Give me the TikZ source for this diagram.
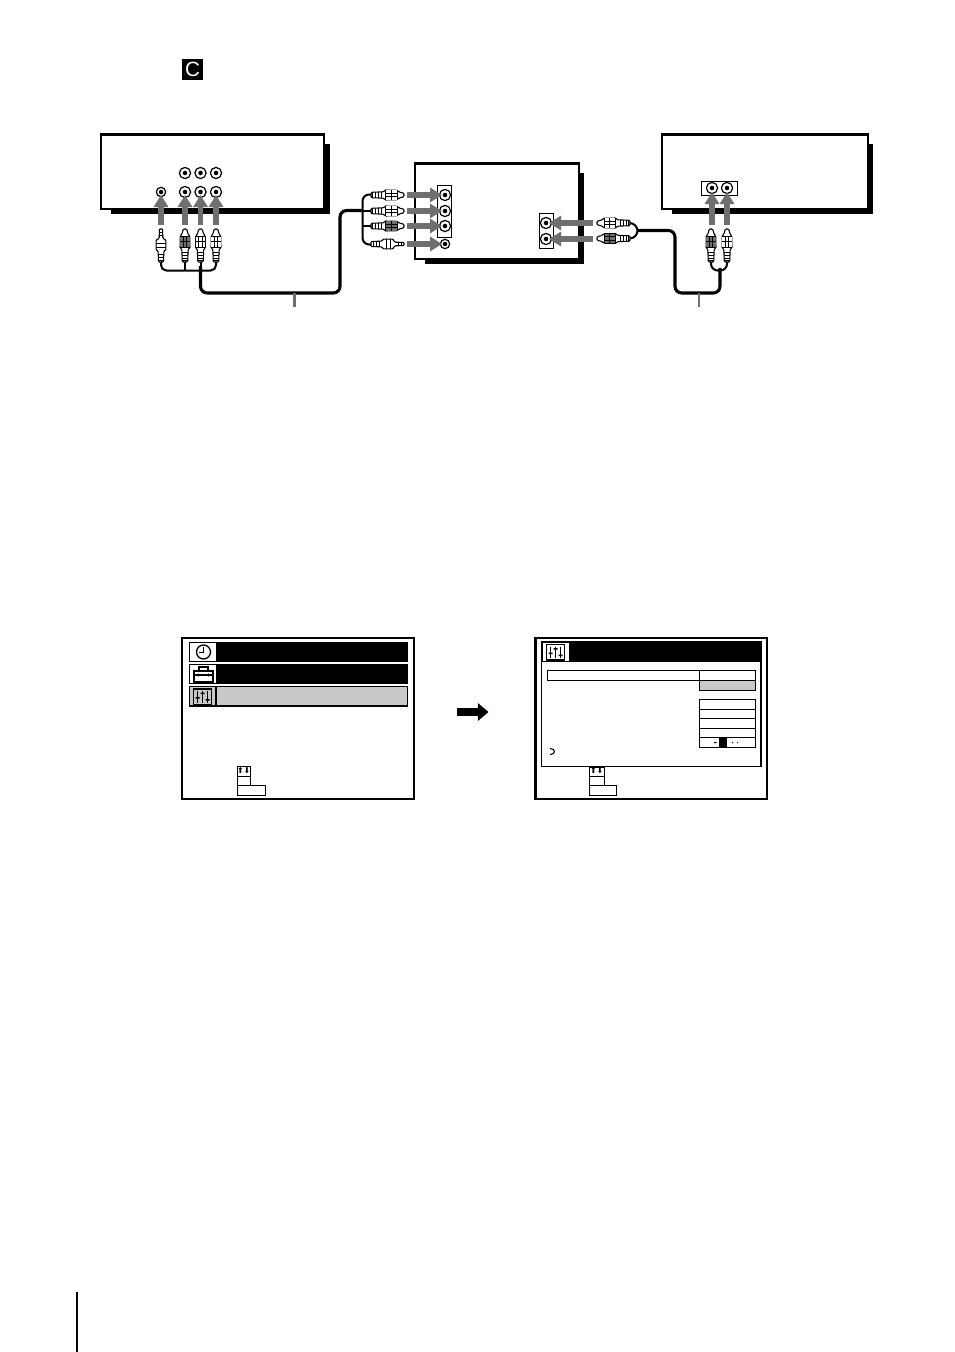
\documentclass[tikz,border=0pt]{standalone}
\usepackage{fontspec}
\setmainfont{Liberation Sans}
\usetikzlibrary{arrows.meta}
\definecolor{arrowgray}{HTML}{6F6F6F}
\definecolor{menugray}{HTML}{C9C9C9}
\tikzset{
  device/.style={draw=black,line width=1.9pt,fill=white},
  shadowbox/.style={fill=black,draw=none},
  panel/.style={draw=black,line width=.7pt,fill=white},
  jackbig/.style={circle,draw=black,line width=.9pt,fill=white,minimum size=8.4pt,inner sep=0pt},
  jacksmall/.style={circle,draw=black,line width=.9pt,fill=white,minimum size=7pt,inner sep=0pt},
  cable/.style={draw=black,line width=2.3pt,rounded corners=5pt},
  thincable/.style={draw=black,line width=1.5pt,rounded corners=4pt},
  flow/.style={draw=arrowgray,line width=4.2pt,-{Triangle[width=10.5pt,length=9pt]}},
  pointer/.style={draw=arrowgray,line width=1.7pt},
  screen/.style={draw=black,line width=1.9pt,fill=white},
  cell/.style={draw=black,line width=.7pt,fill=white},
  graycell/.style={draw=black,line width=.7pt,fill=menugray},
  blackcell/.style={draw=none,fill=black},
  iconline/.style={draw=black,line width=1pt},
}
\newcommand{\jackdot}[1]{\fill[black] (#1) circle[radius=1.7pt];}
% plug: tip at origin, running along +x (px units)
\newcommand{\rcaplug}[4]{%
 \begin{scope}[shift={(#1,#2)},rotate=#3]
  \draw[black,line width=.8pt,fill=white,rounded corners=.8pt] (0,-1.8) -- (5,-3) -- (7,-4.8) -- (19,-5) -- (20,-3.2) -- (33,-2.7) -- (33,2.7) -- (20,3.2) -- (19,5) -- (7,4.8) -- (5,3) -- (0,1.8) -- cycle;
  \fill[#4] (7,-4.6) rectangle (19,4.6);
  \draw[black,line width=.7pt] (7,-4.8) -- (7,4.8) (12.5,-4.8) -- (12.5,4.8) (18.5,-4.8) -- (18.5,4.8) (7,-1.6) -- (18.5,-1.6) (7,1.6) -- (18.5,1.6) (23,-3)--(23,3) (26,-2.9)--(26,2.9) (29,-2.8)--(29,2.8) (31.5,-2.7)--(31.5,2.7);
 \end{scope}}
\newcommand{\miniplug}[3]{%
 \begin{scope}[shift={(#1,#2)},rotate=#3]
  \draw[black,line width=.8pt,fill=white,rounded corners=.6pt] (0,-1.6) -- (9,-1.8) -- (10,-3) -- (11,-4.8) -- (21,-4.8) -- (22,-2.9) -- (33,-2.5) -- (33,2.5) -- (22,2.9) -- (21,4.8) -- (11,4.8) -- (10,3) -- (9,1.8) -- (0,1.6) -- cycle;
  \draw[black,line width=.7pt] (3,-1.7) -- (3,1.7) (6,-1.7) -- (6,1.7) (14,-4.8) -- (14,4.8) (18,-4.8) -- (18,4.8) (25,-2.8)--(25,2.8) (28,-2.7)--(28,2.7) (31,-2.6)--(31,2.6);
 \end{scope}}
\newcommand{\slidericon}[2]{%
 \begin{scope}[shift={(#1,#2)}]
 \draw[iconline,line width=1.1pt] (0,0) rectangle (18,15.5);
 \draw[iconline,line width=.9pt] (4,2) -- (4,13.5) (9,2) -- (9,13.5) (14,2) -- (14,13.5);
 \fill[black] (2,8) rectangle (6,9.5) (7,3.5) rectangle (11,5) (12,10) rectangle (16,11.5);
 \end{scope}}
\begin{document}
\begin{tikzpicture}[x=.75pt,y=-.75pt]
\useasboundingbox (0,0) rectangle (954,1352);
% label C
\node[fill=black,text=white,inner sep=0pt,minimum width=15.6pt,minimum height=15.6pt,font=\fontsize{15.5pt}{15.5pt}\selectfont] (lab) at (192.5,69.5) {C};
% devices
\fill[shadowbox] (111,144) rectangle (330,214);
\path[device] (101,134.5) rectangle (324,209);
\fill[shadowbox] (425,173) rectangle (584,264);
\path[device] (415,163.5) rectangle (579,259);
\fill[shadowbox] (672,144) rectangle (873,214);
\path[device] (662,134.5) rectangle (868,209);
% panels
\path[panel] (437.5,185) rectangle (451,237);
\path[panel] (539.5,213) rectangle (553,248);
\path[panel,fill=white] (701.5,181) rectangle (737,195);
% jacks left device
\foreach \n/\x in {a/185,b/200.5,c/216}{
  \node[jackbig] (top\n) at (\x,173) {}; \jackdot{top\n}
  \node[jackbig] (bot\n) at (\x,192) {}; \jackdot{bot\n}
}
\node[jacksmall] (botv) at (161,192) {}; \jackdot{botv}
% jacks centre
\node[jackbig] (ca) at (445,195) {}; \jackdot{ca}
\node[jackbig] (cb) at (445,211) {}; \jackdot{cb}
\node[jackbig] (cc) at (445,226) {}; \jackdot{cc}
\node[jacksmall] (cd) at (445,244) {}; \jackdot{cd}
\node[jackbig] (ce) at (546,223) {}; \jackdot{ce}
\node[jackbig] (cf) at (546,239) {}; \jackdot{cf}
% jacks right device
\node[jackbig] (ra) at (712,188) {}; \jackdot{ra}
\node[jackbig] (rb) at (727,188) {}; \jackdot{rb}
% cables
\coordinate (m0) at (200.5,262);
\coordinate (m1) at (200.5,293);
\coordinate (m2) at (340,293);
\coordinate (m3) at (340,210.5);
\coordinate (m4) at (363,210.5);
\path[thincable] (161,260) -- (161,270.5) -- (216,270.5) -- (216,260);
\path[thincable] (185,260) -- (185,270.5);
\path[thincable] (m0) -- (200.5,270);
\path[cable] (200.5,266) -- (m1) -- (m2) -- (m3) -- (m4);
\path[thincable,rounded corners=5pt] (371,194.5) -- (362.5,194.5) -- (362.5,244.5) -- (371,244.5);
\path[thincable] (362.5,226) -- (371,226);
\path[thincable] (362.5,210.5) -- (371,210.5);
\path[thincable,rounded corners=6pt] (629,223) -- (637.5,223) -- (637.5,238.5) -- (629,238.5);
\path[cable] (637.5,230.5) -- (675,230.5) -- (675,293) -- (720,293) -- (720,268);
\path[thincable,rounded corners=5pt] (711,260) -- (711,270.5) -- (727,270.5) -- (727,260);
% pointers
\coordinate (p1) at (294.5,293);
\coordinate (p1e) at (294.5,307);
\coordinate (p2) at (699,293);
\coordinate (p2e) at (699,307);
\path[pointer] (p1) -- (p1e);
\path[pointer] (p2) -- (p2e);
% plugs
\miniplug{161}{229}{-90}
\rcaplug{185}{229}{-90}{arrowgray}
\rcaplug{200.5}{229}{-90}{white}
\rcaplug{216}{229}{-90}{white}
\rcaplug{404}{195}{180}{white}
\rcaplug{404}{211}{180}{white}
\rcaplug{404}{226}{180}{arrowgray}
\miniplug{404}{244}{180}
\rcaplug{597}{223}{0}{white}
\rcaplug{597}{238.5}{0}{arrowgray}
\rcaplug{711}{229}{-90}{arrowgray}
\rcaplug{727}{229}{-90}{white}
% flow arrows
\coordinate (s1) at (161,225); \coordinate (s2) at (185,225); \coordinate (s3) at (200.5,225); \coordinate (s4) at (216,225);
\coordinate (s5) at (407,195); \coordinate (s6) at (407,211); \coordinate (s7) at (407,226); \coordinate (s8) at (407,244);
\coordinate (s9) at (593,223); \coordinate (s10) at (593,239);
\coordinate (s11) at (712,225); \coordinate (s12) at (727,225);
\path[flow] (s1) -- (161,195);
\path[flow] (s2) -- (185,195);
\path[flow] (s3) -- (200.5,195);
\path[flow] (s4) -- (216,195);
\path[flow] (s5) -- (442,195);
\path[flow] (s6) -- (442,211);
\path[flow] (s7) -- (442,226);
\path[flow] (s8) -- (442,244);
\path[flow] (s9) -- (549,223);
\path[flow] (s10) -- (549,239);
\path[flow] (s11) -- (712,192);
\path[flow] (s12) -- (727,192);
% screen 1
\path[screen] (182,638) rectangle (414,799);
\fill[black] (189,642) rectangle (408,662);
\fill[black] (189,664) rectangle (408,684);
\path[draw=black,line width=.8pt,fill=menugray] (189.5,686.5) rectangle (407.5,706);
\path[cell] (189.5,642.5) rectangle (216,661.5);
\path[cell] (189.5,664.5) rectangle (216,683.5);
\draw[black,line width=.8pt] (216,686.5) -- (216,706);
% clock
\draw[iconline] (203.5,652) circle[radius=7];
\draw[iconline] (203.5,647) -- (203.5,652.5) -- (199,652.5);
% toolbox
\draw[iconline] (194,671) rectangle (213,682);
\draw[iconline] (199,671) -- (199,667) -- (208,667) -- (208,671);
\draw[iconline] (194,675) -- (213,675);
\fill[black] (198.5,675) circle[radius=1.2pt] (208.5,675) circle[radius=1.2pt];
% sliders
\slidericon{193.5}{689}
\path[cell] (237,766.5) rectangle (250.5,785);
\draw[black,line width=.7pt] (237,776) -- (250.5,776);
\path[cell] (237,785) rectangle (265,795);
\node[inner sep=0pt,font=\fontsize{6pt}{6pt}\selectfont] (u1) at (243.7,771) {\fontspec{DejaVu Sans}⬆⬇};
% screen 2
\path[screen] (535.5,638) rectangle (767,799);
\path[draw=black,line width=.8pt,fill=white] (541.5,642) rectangle (761,766.5);
\fill[black] (541.5,642) rectangle (761,662);
\path[cell] (542.5,642.5) rectangle (569,661);
\slidericon{546.5}{644.5}
\path[cell] (547.5,670.5) rectangle (699,680.5);
\path[cell] (699,670.5) rectangle (755,680.5);
\path[graycell] (699,680.5) rectangle (755,690.5);
\path[cell] (699,699.5) rectangle (755,709);
\path[cell] (699,709) rectangle (755,718.5);
\path[cell] (699,718.5) rectangle (755,728.5);
\path[cell] (699,728.5) rectangle (755,737.5);
\path[cell] (699,737.5) rectangle (755,747);
\path[blackcell] (719,737.5) rectangle (727,747);
\fill[black] (714,742) rectangle (716.5,743) (732,741.8) rectangle (733,743) (737,741.8) rectangle (738,743);
\draw[black,line width=.8pt] (550,748.5) .. controls (556,748.5) and (556,754.5) .. (550,754.5);
\path[cell] (589.5,767) rectangle (604,785);
\draw[black,line width=.7pt] (589.5,776) -- (604,776);
\path[cell] (589.5,785) rectangle (616.5,795);
\node[inner sep=0pt,font=\fontsize{6pt}{6pt}\selectfont] (u2) at (596.7,771) {\fontspec{DejaVu Sans}⬆⬇};
% big arrow
\coordinate (b1) at (457,712);
\coordinate (b2) at (488.5,712);
\draw[black,line width=5.6pt,-{Triangle[width=13pt,length=8pt]}] (b1) -- (b2);
% page line
\coordinate (l1) at (77,1292);
\coordinate (l2) at (77,1352);
\draw[black,line width=1pt] (l1) -- (l2);
\end{tikzpicture}
\end{document}
